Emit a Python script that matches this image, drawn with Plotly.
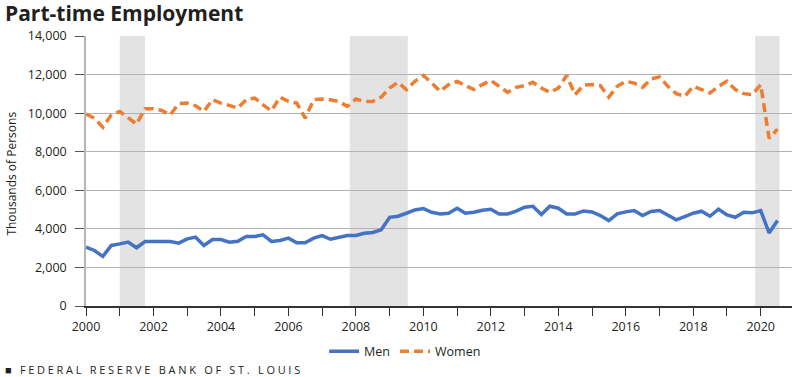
import pandas as pd
import plotly.graph_objects as go

# Quarterly observations, 2000 Q1 .. 2020 Q3 (thousands of persons)
quarters = pd.date_range("2000-01-01", periods=83, freq="QS")

men = [3050, 2880, 2570, 3140, 3220, 3310, 3020, 3340, 3340, 3340,
       3340, 3260, 3480, 3570, 3140, 3450, 3450, 3310, 3360, 3600,
       3600, 3690, 3345, 3400, 3520, 3280, 3280, 3520, 3650, 3460,
       3570, 3655, 3655, 3775, 3810, 3950, 4600, 4655, 4810, 4980,
       5050, 4860, 4775, 4810, 5070, 4810, 4860, 4965, 5020, 4775,
       4775, 4915, 5120, 5170, 4740, 5170, 5070, 4775, 4775, 4930,
       4880, 4690, 4430, 4775, 4880, 4950, 4690, 4900, 4950, 4725,
       4465, 4640, 4810, 4915, 4655, 5020, 4725, 4600, 4860, 4830,
       4950, 3790, 4430]

women = [9950, 9740, 9270, 9910, 10090, 9740, 9430, 10225, 10225, 10140,
         9910, 10490, 10520, 10380, 10090, 10700, 10520, 10400, 10260, 10700,
         10780, 10430, 10120, 10830, 10610, 10520, 9740, 10700, 10730, 10690,
         10600, 10350, 10730, 10610, 10610, 10830, 11300, 11600, 11220, 11650,
         11950, 11570, 11130, 11480, 11650, 11430, 11220, 11480, 11690, 11390,
         11080, 11340, 11430, 11600, 11300, 11080, 11300, 11950, 10960, 11450,
         11480, 11430, 10830, 11390, 11650, 11560, 11340, 11770, 11880, 11390,
         11010, 10870, 11390, 11220, 11040, 11390, 11650, 11220, 11010, 10960,
         11480, 8700, 9170]

recession_start = ["2001-01-01", "2007-10-27", "2019-11-03"]
recession_end = ["2001-10-01", "2009-07-16", "2020-07-23"]

year_ticks = [f"{y}-01-01" for y in range(2000, 2021)]
year_labels = [str(y) if y % 2 == 0 else "" for y in range(2000, 2021)]

FONT = "Open Sans"
TXT = "#231f20"

fig = go.Figure()
fig.add_trace(go.Scatter(x=quarters, y=men, name="Men", mode="lines",
                         line=dict(color="#4472C4", width=3.5)))
fig.add_trace(go.Scatter(x=quarters, y=women, name="Women", mode="lines",
                         line=dict(color="#ED7D31", width=3.5, dash="9px,5px")))

for s, e in zip(recession_start, recession_end):
    fig.add_shape(type="rect", xref="x", yref="paper", x0=s, x1=e, y0=0, y1=1,
                  fillcolor="#e3e3e3", line_width=0, layer="below")

fig.update_layout(
    width=800, height=377,
    margin=dict(l=86, r=8, t=36, b=71, autoexpand=False),
    paper_bgcolor="white", plot_bgcolor="white",
    font=dict(family=FONT, size=12.5, color=TXT),
    title=dict(text="<b>Part-time Employment</b>", xref="container", yref="container",
               x=5 / 800, xanchor="left", y=1 - 14 / 377, yanchor="middle",
               font=dict(family=FONT, size=21, color=TXT)),
    showlegend=True,
    legend=dict(orientation="h", x=0.452, xanchor="center", y=-0.169, yanchor="middle",
                font=dict(size=12.5, color=TXT), bgcolor="rgba(0,0,0,0)"),
    xaxis=dict(range=["2000-01-01", "2020-12-05"], tickvals=year_ticks, ticktext=year_labels,
               ticks="outside", ticklen=8, tickcolor="#333", tickwidth=1,
               showline=True, linecolor="#333", linewidth=1.5, showgrid=False,
               zeroline=False, automargin=False, tickfont=dict(size=12.5, color=TXT)),
    yaxis=dict(range=[0, 14000], tickvals=list(range(0, 14001, 2000)), tickformat=",d",
               ticks="outside", ticklen=9, tickcolor="#555", tickwidth=1,
               showline=True, linecolor="#b5b5b5", linewidth=1.5,
               showgrid=True, gridcolor="#b3b3b3", gridwidth=1, zeroline=False,
               automargin=False, ticklabelstandoff=6, tickfont=dict(size=12.5, color=TXT)),
)

fig.add_annotation(text="Thousands of Persons", xref="paper", yref="paper",
                   x=(12 - 86.3) / 705.4, y=0.489, textangle=-90, showarrow=False,
                   xanchor="center", yanchor="middle", font=dict(size=12, color=TXT))
fig.add_annotation(text='<span style="letter-spacing:2.7px">■ FEDERAL RESERVE BANK OF ST. LOUIS</span>',
                   xref="paper", yref="paper", x=(3 - 86.3) / 705.4, y=(306 - 369) / 270,
                   xanchor="left", yanchor="middle", showarrow=False,
                   font=dict(size=11, color=TXT))

fig.write_html("out.html",
               config={"displayModeBar": False},
               post_script="document.body.style.margin='0';document.body.style.overflow='hidden';")
